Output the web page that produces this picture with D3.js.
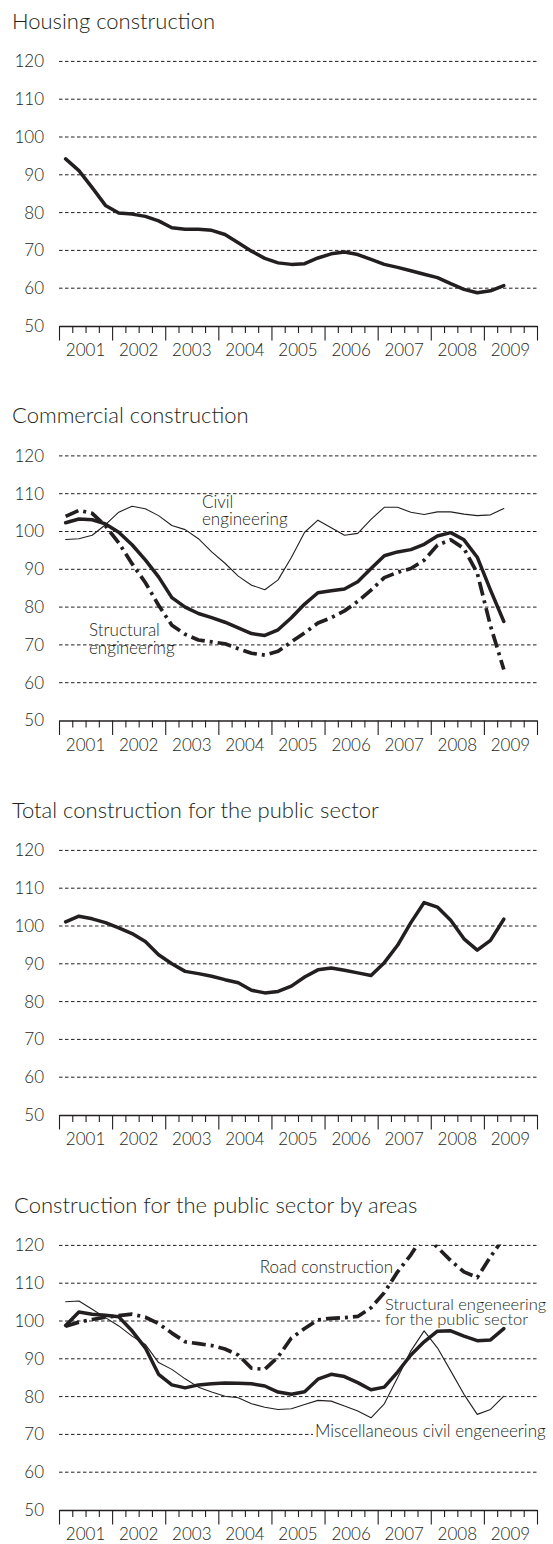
<!DOCTYPE html>
<html><head><meta charset="utf-8">
<script src="https://cdn.jsdelivr.net/npm/d3@7"></script>
<style>
body{margin:0;background:#fff;}
svg{display:block;}
text{font-family:Lato,"Open Sans",sans-serif;font-weight:300;fill:#231f20;}
</style></head><body>
<svg id="c" width="553" height="1544"></svg>
<script>
// ---------------- data ----------------
const years = [2001, 2002, 2003, 2004, 2005, 2006, 2007, 2008, 2009];
const quarters = [
  "2001Q1","2001Q2","2001Q3","2001Q4","2002Q1","2002Q2","2002Q3","2002Q4",
  "2003Q1","2003Q2","2003Q3","2003Q4","2004Q1","2004Q2","2004Q3","2004Q4",
  "2005Q1","2005Q2","2005Q3","2005Q4","2006Q1","2006Q2","2006Q3","2006Q4",
  "2007Q1","2007Q2","2007Q3","2007Q4","2008Q1","2008Q2","2008Q3","2008Q4",
  "2009Q1","2009Q2"];
const yTicks = [50, 60, 70, 80, 90, 100, 110, 120];

const housing = [94.2, 91.1, 86.6, 81.9, 79.9, 79.6, 79.0, 77.8, 76.0, 75.6, 75.6, 75.3, 74.2, 72.0, 69.8, 67.9,
  66.7, 66.3, 66.5, 68.0, 69.1, 69.6, 68.9, 67.6, 66.3, 65.5, 64.6, 63.7, 62.8, 61.2, 59.7, 58.8, 59.3, 60.7];

const commercialTotal = [102.3, 103.3, 103.1, 102.0, 99.8, 96.5, 92.5, 88.0, 82.5, 80.0, 78.3, 77.2, 76.0, 74.5, 73.0, 72.5,
  74.0, 77.2, 80.8, 83.8, 84.3, 84.8, 86.7, 90.2, 93.6, 94.6, 95.2, 96.6, 98.8, 99.7, 97.8, 93.2, 84.5, 76.2];
const commercialStructural = [104.0, 105.6, 104.8, 101.5, 97.0, 91.5, 86.5, 80.5, 75.2, 72.8, 71.3, 70.8, 70.3, 69.0, 67.8, 67.3,
  68.3, 70.8, 73.2, 75.8, 77.2, 79.0, 81.5, 84.5, 87.8, 89.2, 90.2, 92.4, 96.4, 97.8, 95.5, 89.0, 75.0, 63.5];
const commercialCivil = [97.9, 98.1, 99.0, 101.8, 105.1, 106.7, 106.0, 104.2, 101.6, 100.5, 98.1, 94.6, 91.6, 88.2, 85.8, 84.6,
  87.2, 93.1, 99.8, 103.0, 101.0, 99.0, 99.5, 103.2, 106.4, 106.4, 105.1, 104.5, 105.2, 105.2, 104.6, 104.2, 104.4, 106.1];

const publicTotal = [101.1, 102.6, 101.9, 100.9, 99.5, 98.0, 95.9, 92.4, 90.0, 88.0, 87.4, 86.7, 85.8, 85.0, 83.0, 82.3,
  82.7, 84.1, 86.5, 88.4, 88.9, 88.3, 87.6, 86.9, 90.3, 94.9, 100.9, 106.2, 105.0, 101.5, 96.6, 93.6, 96.2, 101.8];

const publicStructural = [98.8, 102.4, 101.8, 101.5, 101.1, 97.4, 92.9, 85.9, 83.1, 82.3, 83.1, 83.4, 83.6, 83.5, 83.4, 82.8,
  81.2, 80.6, 81.3, 84.6, 85.9, 85.3, 83.7, 81.8, 82.5, 86.5, 91.0, 94.5, 97.3, 97.4, 96.0, 94.8, 95.0, 98.0];
const publicRoad = [98.6, 99.7, 100.4, 101.0, 101.4, 101.8, 101.0, 99.3, 96.8, 94.5, 94.0, 93.5, 92.6, 91.0, 87.5, 87.2,
  90.5, 95.5, 98.0, 100.3, 100.7, 100.9, 101.2, 103.5, 107.5, 113.0, 117.5, 123.0, 119.5, 116.0, 113.0, 111.5, 117.0, 122.0];
const publicMisc = [105.1, 105.3, 103.1, 100.9, 98.7, 96.0, 93.8, 89.0, 87.2, 84.7, 82.5, 81.2, 80.1, 79.7, 78.1, 77.2,
  76.6, 76.8, 77.9, 79.0, 78.8, 77.5, 76.2, 74.4, 78.1, 85.0, 92.1, 97.4, 92.9, 86.8, 80.6, 75.3, 76.6, 80.1];

// ---------------- layout ----------------
const svg = d3.select("#c");
const X0 = 59, X1 = 537;
const x = d3.scaleLinear().domain([2001, 2010]).range([X0, X1]);
const qPos = q => +q.slice(0, 4) + (+q.slice(5) - 0.5) / 4;

const styles = {
  thick:   {w: 3.5, dash: null, cap: "round"},
  thin:    {w: 1.1, dash: null, cap: "round"},
  dashdot: {w: 3.7, dash: "14,5,3,5", cap: "butt"}
};

const SH = -2; // global vertical shift
const panels = [
  {title: "Housing construction", axisY: 328 + SH, titleX: 12,
   series: [{data: housing, s: "thick"}], labels: [], boxes: []},
  {title: "Commercial construction", axisY: 722.5 + SH, titleX: 12,
   series: [{data: commercialCivil, s: "thin"}, {data: commercialStructural, s: "dashdot"}, {data: commercialTotal, s: "thick"}],
   labels: [
     {t: "Civil", x: 202, y: 509.5 + SH}, {t: "engineering", x: 202, y: 527 + SH},
     {t: "Structural", x: 89, y: 637.5 + SH}, {t: "engineering", x: 89, y: 655.5 + SH}],
   boxes: []},
  {title: "Total construction for the public sector", axisY: 1117 + SH, titleX: 12,
   series: [{data: publicTotal, s: "thick"}], labels: [], boxes: []},
  {title: "Construction for the public sector by areas", axisY: 1512 + SH, titleX: 14,
   series: [{data: publicMisc, s: "thin"}, {data: publicRoad, s: "dashdot"}, {data: publicStructural, s: "thick"}],
   labels: [
     {t: "Road construction", x: 393, y: 1275 + SH, anchor: "end"},
     {t: "Structural engeneering", x: 385, y: 1311.5 + SH, size: 16.5},
     {t: "for the public sector", x: 385, y: 1327.3 + SH, size: 16.5},
     {t: "Miscellaneous civil engeneering", x: 315, y: 1439.3 + SH}],
   boxes: [{x: 380, y: 1316 + SH, w: 173, h: 14}, {x: 313, y: 1429 + SH, w: 240, h: 14}]}
];

panels.forEach((p, pi) => {
  const y = d3.scaleLinear().domain([50, 120]).range([p.axisY, p.axisY - 264.6]);
  const g = svg.append("g");

  // title
  g.append("text").attr("x", p.titleX).attr("y", p.axisY - 297.5)
    .style("font-size", "22px").text(p.title);

  // gridlines
  g.append("g").selectAll("line").data(yTicks.filter(v => v > 50)).join("line")
    .attr("x1", X0).attr("x2", X1)
    .attr("y1", d => y(d)).attr("y2", d => y(d))
    .attr("stroke", "#231f20").attr("stroke-width", 1)
    .attr("stroke-dasharray", "3.5,2.5");

  // y labels
  const ya = g.append("g").attr("transform", `translate(${X0},0)`)
    .call(d3.axisLeft(y).tickValues(yTicks).tickSize(0).tickPadding(15));
  ya.select(".domain").remove();
  ya.selectAll("text").style("font-size", "17px").style("font-family", "Lato,'Open Sans',sans-serif")
    .style("font-weight", "300").attr("fill", "#231f20");

  // x axis with quarter ticks
  const bounds = d3.range(2001, 2010.001, 0.25);
  const xa = g.append("g").attr("transform", `translate(0,${p.axisY})`)
    .call(d3.axisBottom(x).tickValues(bounds).tickSize(7).tickSizeOuter(0).tickFormat(""));
  xa.select(".domain").attr("stroke", "#231f20").attr("stroke-width", 1.3);
  xa.selectAll(".tick line").attr("stroke", "#231f20").attr("stroke-width", 1.1)
    .attr("y2", d => Number.isInteger(d) ? 14.5 : 7);

  // year labels
  g.append("g").selectAll("text").data(years).join("text")
    .attr("x", d => x(d + 0.5)).attr("y", p.axisY + 30)
    .attr("text-anchor", "middle").style("font-size", "17px").text(d => d);

  // label background boxes
  g.append("g").selectAll("rect").data(p.boxes).join("rect")
    .attr("x", d => d.x).attr("y", d => d.y).attr("width", d => d.w).attr("height", d => d.h)
    .attr("fill", "#fff");

  // clip
  const cid = "clip" + pi;
  svg.append("clipPath").attr("id", cid).append("rect")
    .attr("x", X0 - 10).attr("y", y(120) - 1).attr("width", X1 - X0 + 20).attr("height", p.axisY - y(120) + 1);

  const line = d3.line().x((d, i) => x(qPos(quarters[i]))).y(d => y(d));
  const lg = g.append("g").attr("clip-path", `url(#${cid})`);
  p.series.forEach(s => {
    const st = styles[s.s];
    lg.append("path").datum(s.data).attr("d", line)
      .attr("fill", "none").attr("stroke", "#231f20")
      .attr("stroke-width", st.w).attr("stroke-linejoin", "round")
      .attr("stroke-linecap", st.cap)
      .attr("stroke-dasharray", st.dash);
  });

  // labels
  g.append("g").selectAll("text").data(p.labels).join("text")
    .attr("x", d => d.x).attr("y", d => d.y)
    .attr("text-anchor", d => d.anchor || "start")
    .style("font-size", d => (d.size || 17) + "px").text(d => d.t);
});
</script>
</body></html>
